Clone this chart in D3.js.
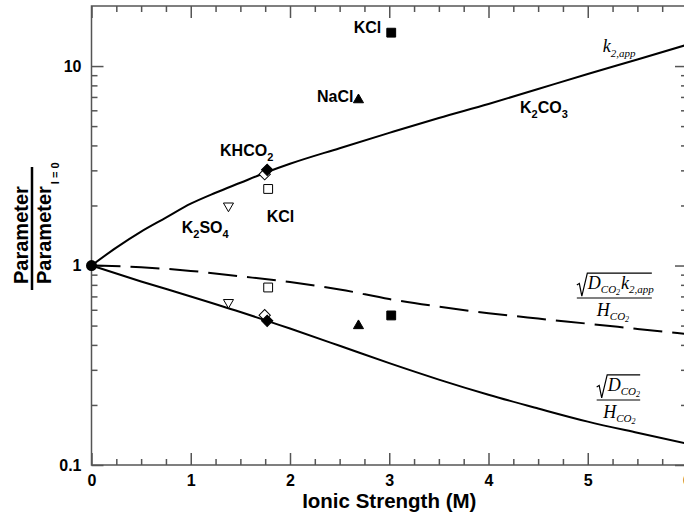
<!DOCTYPE html>
<html>
<head>
<meta charset="utf-8">
<script src="https://cdn.jsdelivr.net/npm/d3@7"></script>
<style>
  body { margin: 0; background: #fff; }
  svg { display: block; }
  .tick-label { font-family: "Liberation Sans", Arial, sans-serif; font-weight: bold; font-size: 16px; }
  .chem { font-family: "Liberation Sans", Arial, sans-serif; font-weight: bold; font-size: 16px; }
  .math { font-family: "Liberation Serif", "Times New Roman", serif; font-style: italic; font-size: 18px; }
</style>
</head>
<body>
<svg id="chart" width="684" height="518"></svg>
<script>
// model curves
const kCurveI = [0, 0.25, 0.5, 0.75, 1, 1.25, 1.5, 1.75, 2, 2.5, 3, 3.5, 4, 4.5, 5, 5.5, 6];
const kCurve = [1, 1.23, 1.479, 1.738, 2.042, 2.317, 2.6, 2.917, 3.236, 3.873, 4.624, 5.495, 6.457, 7.674, 9.12, 10.79, 12.79];

const lowI = [0, 0.5, 1, 1.5, 2, 2.5, 3, 3.5, 4, 4.5, 5, 5.5, 6];
const fluxCurve = [1, 0.98, 0.94, 0.883, 0.826, 0.759, 0.679, 0.622, 0.577, 0.542, 0.511, 0.481, 0.453];
const solCurve = [1, 0.832, 0.7, 0.585, 0.483, 0.396, 0.324, 0.268, 0.225, 0.192, 0.165, 0.145, 0.128];

// measured points
const pointSalt = ['KHCO2', 'K2CO3', 'KCl', 'K2SO4', 'NaCl', 'KCl'];
const pointShape = ['diamond', 'diamond', 'square', 'triangleDown', 'triangle', 'square'];
const pointFilled = [true, false, false, false, true, true];
const pointI = [1.77, 1.745, 1.78, 1.38, 2.69, 3.02];
const pointK = [3.02, 2.87, 2.42, 1.99, 6.77, 14.7];
const pointFlux = [0.528, 0.564, 0.776, 0.653, 0.499, 0.562];

const xTicks = [0, 1, 2, 3, 4, 5, 6];
const yTicks = [0.1, 1, 10];
const yTickLabels = ['0.1', '1', '10'];

// annotations placed in data units
const saltLabels = [
  { parts: [['KCl', false]], i: 2.92, v: 14.7, anchor: 'end' },
  { parts: [['NaCl', false]], i: 2.64, v: 6.64, anchor: 'end' },
  { parts: [['KHCO', false], ['2', true]], i: 1.295, v: 3.56, anchor: 'start' },
  { parts: [['KCl', false]], i: 1.765, v: 1.65, anchor: 'start' },
  { parts: [['K', false], ['2', true], ['SO', false], ['4', true]], i: 0.909, v: 1.45, anchor: 'start' },
  { parts: [['K', false], ['2', true], ['CO', false], ['3', true]], i: 4.317, v: 5.81, anchor: 'start' },
];

const margin = { top: 6, left: 91.5 };
const plotW = 595.5;
const plotH = 459;

const svg = d3.select('#chart');

const x = d3.scaleLinear().domain([0, 6]).range([margin.left, margin.left + plotW]);
const y = d3.scaleLog().domain([0.1, 20]).range([margin.top + plotH, margin.top]);

const minorX = d3.range(0, 6.001, 0.25).filter((d) => d % 1 !== 0);
const minorY = [];
[0.1, 1].forEach((dec) => {
  for (let m = 2; m <= 9; m++) minorY.push(dec * m);
});

const axisColor = '#555';

function drawAxis(axis, transform) {
  const g = svg.append('g').attr('transform', transform).call(axis);
  g.select('.domain').remove();
  g.selectAll('line').attr('stroke', axisColor).attr('stroke-width', 1.5);
  g.selectAll('text').attr('class', 'tick-label').attr('fill', '#000');
  return g;
}

// bottom
drawAxis(
  d3.axisBottom(x).tickValues(xTicks).tickSize(-12).tickSizeOuter(0).tickPadding(10).tickFormat(d3.format('d')),
  `translate(0,${y(0.1)})`
);
drawAxis(
  d3.axisBottom(x).tickValues(minorX).tickSize(-6).tickSizeOuter(0).tickFormat(''),
  `translate(0,${y(0.1)})`
);
// top
drawAxis(
  d3.axisTop(x).tickValues(xTicks).tickSize(-12).tickSizeOuter(0).tickFormat(''),
  `translate(0,${y(20)})`
);
drawAxis(
  d3.axisTop(x).tickValues(minorX).tickSize(-6).tickSizeOuter(0).tickFormat(''),
  `translate(0,${y(20)})`
);
// left
drawAxis(
  d3.axisLeft(y).tickValues(yTicks).tickSize(-12).tickSizeOuter(0).tickPadding(10)
    .tickFormat((d, i) => yTickLabels[i]),
  `translate(${x(0)},0)`
);
drawAxis(
  d3.axisLeft(y).tickValues(minorY).tickSize(-6).tickSizeOuter(0).tickFormat(''),
  `translate(${x(0)},0)`
);
// right
drawAxis(
  d3.axisRight(y).tickValues(yTicks).tickSize(-12).tickSizeOuter(0).tickFormat(''),
  `translate(${x(6)},0)`
);
drawAxis(
  d3.axisRight(y).tickValues(minorY).tickSize(-6).tickSizeOuter(0).tickFormat(''),
  `translate(${x(6)},0)`
);

// frame
svg.append('rect')
  .attr('x', x(0)).attr('y', y(20))
  .attr('width', x(6) - x(0)).attr('height', y(0.1) - y(20))
  .attr('fill', 'none').attr('stroke', axisColor).attr('stroke-width', 1.5);

// curves
const line = d3.line().x((d) => x(d[0])).y((d) => y(d[1])).curve(d3.curveMonotoneX);

svg.append('path')
  .datum(kCurveI.map((d, i) => [d, kCurve[i]]))
  .attr('d', line).attr('fill', 'none').attr('stroke', '#000').attr('stroke-width', 2);

svg.append('path')
  .datum(lowI.map((d, i) => [d, fluxCurve[i]]))
  .attr('d', line).attr('fill', 'none').attr('stroke', '#000').attr('stroke-width', 2)
  .attr('stroke-dasharray', '29,10');

svg.append('path')
  .datum(lowI.map((d, i) => [d, solCurve[i]]))
  .attr('d', line).attr('fill', 'none').attr('stroke', '#000').attr('stroke-width', 2);

// markers
const shapes = {
  diamond: { type: d3.symbolSquare, size: 64, rot: 45 },
  square: { type: d3.symbolSquare, size: 78, rot: 0 },
  triangle: { type: d3.symbolTriangle, size: 44, rot: 0 },
  triangleDown: { type: d3.symbolTriangle, size: 44, rot: 180 },
};

function drawPoints(values) {
  // open ones first so the filled ones sit on top
  const order = d3.range(pointI.length).sort((a, b) => pointFilled[a] - pointFilled[b]);
  order.forEach((i) => {
    const s = shapes[pointShape[i]];
    svg.append('path')
      .attr('d', d3.symbol().type(s.type).size(s.size)())
      .attr('transform', `translate(${x(pointI[i])},${y(values[i])}) rotate(${s.rot})`)
      .attr('fill', pointFilled[i] ? '#000' : '#fff')
      .attr('stroke', '#000')
      .attr('stroke-width', 1);
  });
}
drawPoints(pointK);
drawPoints(pointFlux);

svg.append('circle')
  .attr('cx', x(0)).attr('cy', y(1)).attr('r', 5.5).attr('fill', '#000');

// salt labels
saltLabels.forEach((lab) => {
  const t = svg.append('text')
    .attr('class', 'chem')
    .attr('x', x(lab.i)).attr('y', y(lab.v))
    .attr('text-anchor', lab.anchor);
  let down = false;
  lab.parts.forEach(([txt, sub]) => {
    const ts = t.append('tspan').text(txt);
    if (sub && !down) { ts.attr('dy', 5).style('font-size', '11px'); down = true; }
    else if (!sub && down) { ts.attr('dy', -5); down = false; }
    else if (sub) ts.style('font-size', '11px');
  });
});

// k2,app label
const kLab = svg.append('text').attr('class', 'math')
  .attr('x', x(5.15)).attr('y', y(11.8));
kLab.append('tspan').text('k');
kLab.append('tspan').attr('dy', 5).style('font-size', '11px').text('2,app');

// sqrt(D k)/H style labels
function radicalLabel(i, v, w, numer, denomX) {
  const g = svg.append('g').attr('transform', `translate(${x(i)},${y(v)})`);
  g.append('line').attr('x1', 0).attr('x2', w).attr('y1', 0).attr('y2', 0)
    .attr('stroke', '#808080').attr('stroke-width', 2);
  g.append('path')
    .attr('d', `M0,-13 L2.5,-14.5 L5,-2 L10.5,-25 L${w},-25`)
    .attr('fill', 'none').attr('stroke', '#000').attr('stroke-width', 1.2);
  const n = g.append('text').attr('class', 'math').attr('x', 11).attr('y', -9);
  n.append('tspan').text('D');
  n.append('tspan').attr('dy', 4).style('font-size', '11px').text('CO');
  n.append('tspan').attr('dy', 2).style('font-size', '8px').text('2');
  if (numer) {
    n.append('tspan').attr('dy', -6).attr('dx', 1).text('k');
    n.append('tspan').attr('dy', 4).style('font-size', '11px').text('2,app');
  }
  const d = g.append('text').attr('class', 'math').attr('x', denomX).attr('y', 18);
  d.append('tspan').text('H');
  d.append('tspan').attr('dy', 4).style('font-size', '11px').text('CO');
  d.append('tspan').attr('dy', 2).style('font-size', '8px').text('2');
}
radicalLabel(4.89, 0.687, 75, true, 20);
radicalLabel(5.09, 0.212, 43.5, false, 6.5);

// axis titles
svg.append('text')
  .attr('class', 'chem').style('font-size', '20.5px')
  .attr('x', x(3)).attr('y', 508)
  .attr('text-anchor', 'middle')
  .text('Ionic Strength (M)');

const yt = svg.append('g').attr('transform', 'translate(0,284) rotate(-90)');
yt.append('text').attr('class', 'chem').style('font-size', '20px')
  .attr('x', 0).attr('y', 27.5).text('Parameter');
yt.append('line').attr('x1', -6).attr('x2', 117).attr('y1', 32).attr('y2', 32)
  .attr('stroke', '#000').attr('stroke-width', 2.5);
const den = yt.append('text').attr('class', 'chem').style('font-size', '20px')
  .attr('x', 0).attr('y', 50.5);
den.append('tspan').text('Parameter');
den.append('tspan').attr('dy', 8).attr('dx', 2).style('font-size', '11px').text('I = 0');
</script>
</body>
</html>
